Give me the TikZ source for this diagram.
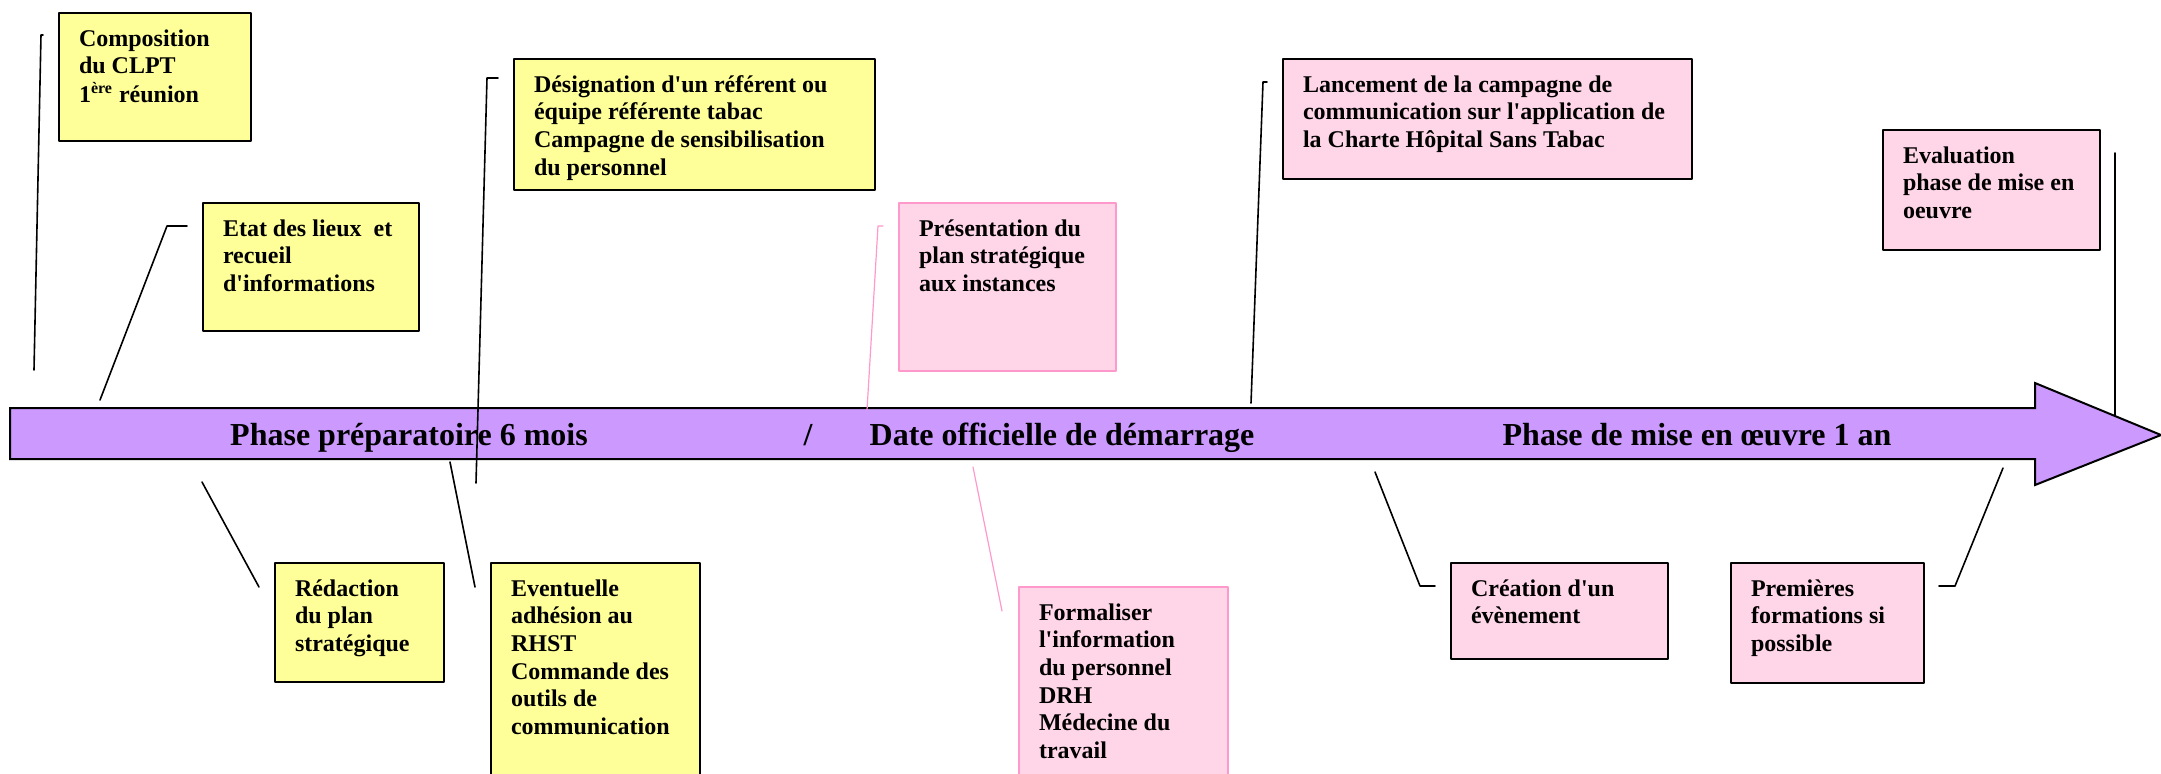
\documentclass[tikz,border=0pt]{standalone}
\usepackage{fontspec}
\setmainfont{Liberation Serif}[Ligatures=TeXOff]
\usepackage{tikz}
\definecolor{jaune}{HTML}{FFFF99}
\definecolor{rosepale}{HTML}{FFD6E8}
\definecolor{rosevif}{HTML}{FF99CC}
\definecolor{lilas}{HTML}{CC99FF}
\newcommand{\bloc}[3]{\parbox[t][#2][t]{#1}{\begin{tabular}[t]{@{}l@{}}#3\end{tabular}}}

\begin{document}
\begin{tikzpicture}[line cap=round,line join=round,x=0.5pt,y=-0.5pt,
  cadre/.style={draw=black,line width=1pt,anchor=north west,inner xsep=10pt,inner ysep=7pt,font=\fontsize{12}{13.8}\selectfont\bfseries},
  cadrejaune/.style={cadre,fill=jaune},
  cadrerose/.style={cadre,fill=rosepale},
  cadrerosevif/.style={cadre,fill=rosepale,draw=rosevif},
  trait/.style={line width=0.8pt},
  traitrose/.style={line width=0.6pt,draw=rosevif},
  phase/.style={anchor=base,font=\fontsize{16}{19}\selectfont\bfseries}]
\useasboundingbox (0,0) rectangle (2161,773);
\clip (0,0) rectangle (2161,773);

%fleche
\draw[line width=1pt,line join=miter,fill=lilas] (10,408) -- (2035,408) -- (2035,383) -- (2161,435) -- (2035,485) -- (2035,459) -- (10,459) -- cycle;
\node [phase] (prep) at (409,445) {Phase préparatoire 6 mois};
\node [phase] (barre) at (808,445) {/};
\node [phase] (demarrage) at (1062,445) {Date officielle de démarrage};
\node [phase] (miseoeuvre) at (1697,445) {Phase de mise en œuvre 1 an};

%cadres du haut
\node [cadrejaune] (compo) at (58,12) {\bloc{76pt}{50pt}{Composition\\du CLPT\\1\textsuperscript{ère} réunion}};
\node [cadrejaune] (etat) at (202,202) {\bloc{88pt}{50pt}{Etat des lieux\ \ et\\recueil\\d'informations}};
\node [cadrejaune] (designation) at (513,58) {\bloc{160.5pt}{51.5pt}{Désignation d'un référent ou\\équipe référente tabac\\Campagne de sensibilisation\\du personnel}};
\node [cadrerosevif] (presentation) at (898,202) {\bloc{88.5pt}{70pt}{Présentation du\\plan stratégique\\aux instances}};
\node [cadrerose] (lancement) at (1282,58) {\bloc{184.5pt}{46pt}{Lancement de la campagne de\\communication sur l'application de\\la Charte Hôpital Sans Tabac}};
\node [cadrerose] (evaluation) at (1882,129) {\bloc{88.5pt}{46pt}{Evaluation\\phase de mise en\\oeuvre}};

%cadres du bas
\node [cadrejaune] (redaction) at (274,562) {\bloc{64.5pt}{45.5pt}{Rédaction\\du plan\\stratégique}};
\node [cadrejaune] (adhesion) at (490,562) {\bloc{84.5pt}{106pt}{Eventuelle\\adhésion au\\RHST\\Commande des\\outils de\\communication}};
\node [cadrerosevif] (formaliser) at (1018,586) {\bloc{84.5pt}{106pt}{Formaliser\\l'information\\du personnel\\DRH\\Médecine du\\travail}};
\node [cadrerose] (creation) at (1450,562) {\bloc{88.5pt}{34pt}{Création d'un\\évènement}};
\node [cadrerose] (formations) at (1730,562) {\bloc{76.5pt}{46pt}{Premières\\formations si\\possible}};

%traits
\coordinate (compo1) at (43,35);
\coordinate (compo2) at (41,35);
\coordinate (compo3) at (34,370);
\coordinate (etat1) at (187,226);
\coordinate (etat2) at (167,226);
\coordinate (etat3) at (100,400);
\coordinate (redaction1) at (202,482);
\coordinate (redaction2) at (259,587);
\coordinate (designation1) at (498,78);
\coordinate (designation2) at (487,78);
\coordinate (designation3) at (476,483);
\coordinate (adhesion1) at (450,462);
\coordinate (adhesion2) at (475,587);
\coordinate (presentation1) at (883,226);
\coordinate (presentation2) at (878,226);
\coordinate (presentation3) at (867,410);
\coordinate (formaliser1) at (973,467);
\coordinate (formaliser2) at (1002,611);
\coordinate (lancement1) at (1267,82);
\coordinate (lancement2) at (1263,82);
\coordinate (lancement3) at (1251,403);
\coordinate (creation1) at (1375,472);
\coordinate (creation2) at (1420,586);
\coordinate (creation3) at (1435,586);
\coordinate (formations1) at (2003,468);
\coordinate (formations2) at (1955,586);
\coordinate (formations3) at (1939,586);
\coordinate (evaluation1) at (2115,153);
\coordinate (evaluation2) at (2115,415);

\foreach \n in {compo,etat,designation,lancement,creation,formations}
{
\draw[trait] (\n1) -- (\n2) -- (\n3);
}
\draw[trait] (redaction1) -- (redaction2);
\draw[trait] (adhesion1) -- (adhesion2);
\draw[trait] (evaluation1) -- (evaluation2);
\draw[traitrose] (presentation1) -- (presentation2) -- (presentation3);
\draw[traitrose] (formaliser1) -- (formaliser2);
\end{tikzpicture}
\end{document}
